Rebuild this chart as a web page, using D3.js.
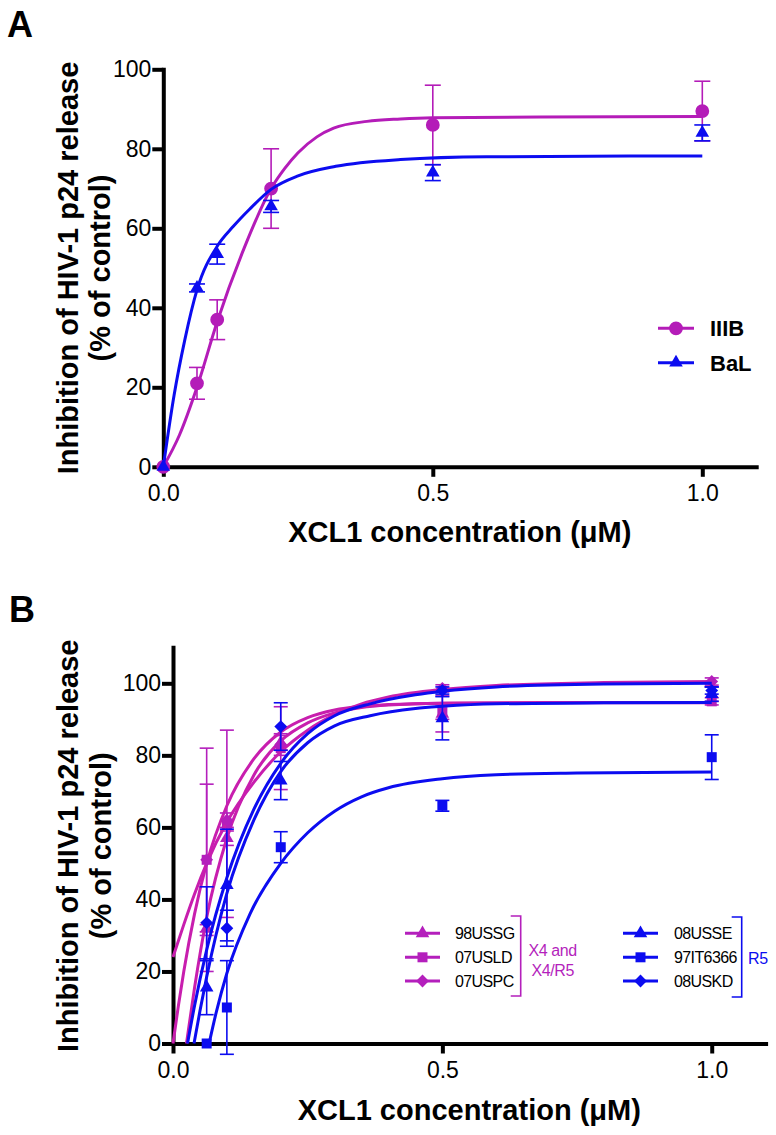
<!DOCTYPE html>
<html><head><meta charset="utf-8">
<script src="https://cdn.jsdelivr.net/npm/d3@7"></script>
<style>body{margin:0;background:#fff}svg{display:block}</style>
</head><body>
<svg id="chart" width="776" height="1135"></svg>
<script>
// ---------- Panel A data ----------
const dosesA = [0, 0.0625, 0.1, 0.2, 0.5, 1.0];
const iiibMean = [0, 21, 37, 70, 86, 89.5];
const iiibErr  = [0, 4, 5, 10, 10, 7.5];
const balMean  = [0, 45, 53.5, 65.5, 74, 84];
const balErr   = [0, 1, 2.5, 1.5, 2, 2];
// fitted curves: [x, y]
const fitIIIB = [[0,0],[0.03,8],[0.0625,20],[0.1,36.5],[0.15,55],[0.2,70],[0.225,75],[0.25,79],[0.285,83],[0.316,85.2],[0.378,86.9],[0.44,87.5],[0.5,87.8],[0.7,88],[1.0,88.1]];
const fitBaL  = [[0,0],[0.02,18],[0.04,32],[0.0625,44.5],[0.1,55.5],[0.13,60.5],[0.16,64.8],[0.2,69.8],[0.25,73.2],[0.32,75.6],[0.44,77.3],[0.6,78],[1.0,78.2]];
const legendA = ["IIIB", "BaL"];
const yTicksA = [0, 20, 40, 60, 80, 100];
const xTicks  = [0, 0.5, 1.0];

// ---------- Panel B data ----------
const dosesB = [0.0625, 0.1, 0.2, 0.5, 1.0];
const m98USSG   = [32, 57, 83.5, 91.5, 97];
const e98USSG   = [1, 2, 2, 5, 2];
const m07USLD   = [51, 61, 82, 92, 95];
const e07USLD   = [31, 26, 11.5, 2, 1];
const m07USPC   = [51, 62, 83, 98.6, 100.5];
const e07USPC   = [21, 2, 3, 1, 1];
const m08USSE   = [15.5, 44, 73, 90.3, 97];
const e08USSE   = [7.5, 15.5, 5.3, 6, 2];
const m97IT6366 = [0, 10, 54.5, 66, 79.5];
const e97IT6366 = [0, 13, 4.3, 1.5, 6.2];
const m08USKD   = [33.5, 32, 88, 98, 98];
const e08USKD   = [10, 5, 6.6, 1, 1];
const fit98USSG   = [[0.025,0],[0.04,15.5],[0.0625,35],[0.1,57],[0.15,74.5],[0.2,84],[0.25,89],[0.3,91.8],[0.35,93.3],[0.4,94],[0.5,94.5],[0.7,94.7],[1.0,94.7]];
const fit07USLD   = [[0,0],[0.01,10.5],[0.02,20],[0.04,36],[0.0625,50],[0.1,66],[0.15,79],[0.2,86.5],[0.25,90.5],[0.3,92.6],[0.35,93.6],[0.4,94.1],[0.5,94.5],[0.7,94.6],[1.0,94.6]];
const fit07USPC   = [[0,24],[0.02,33],[0.04,41.5],[0.0625,50],[0.1,61.5],[0.15,72.5],[0.2,81],[0.25,87],[0.3,91.3],[0.35,94.3],[0.4,96.2],[0.5,98.3],[0.6,99.4],[0.8,100.2],[1.0,100.5]];
const fit08USSE   = [[0.039,0],[0.05,9],[0.0625,18.5],[0.1,41.7],[0.15,62],[0.2,75.5],[0.25,83.5],[0.3,88.2],[0.366,91],[0.45,93],[0.5,93.6],[0.6,94.3],[0.8,94.6],[1.0,94.7]];
const fit97IT6366 = [[0.067,0],[0.08,8.5],[0.1,19.5],[0.143,36],[0.2,50],[0.25,58.5],[0.3,64.5],[0.35,68.5],[0.4,71],[0.5,73.5],[0.6,74.6],[0.75,75.1],[1.0,75.4]];
const fit08USKD   = [[0.027,0],[0.04,10.5],[0.0625,26],[0.1,46],[0.15,65],[0.2,77.8],[0.25,86],[0.3,91],[0.366,94.3],[0.45,96.8],[0.5,97.8],[0.6,99],[0.8,99.8],[1.0,100]];
const namesX4 = ["98USSG", "07USLD", "07USPC"];
const namesR5 = ["08USSE", "97IT6366", "08USKD"];
const yTicksB = [0, 20, 40, 60, 80, 100];

// ---------- styles ----------
const MAG_A = "#b41cb8", BLUE = "#0c0cf0";
const MAG_LINE_B = "#c81eae", MAG_MARK_B = "#b41fbc";
const FONT = "'Liberation Sans', Arial, Helvetica, sans-serif";

const svg = d3.select("#chart");
svg.append("rect").attr("width", 776).attr("height", 1135).attr("fill", "#fff");

function sym(type, size) {
  return d3.symbol().type(type).size(size)();
}
const SYM = {
  circle:   {type: d3.symbolCircle, size: 150, rot: 0},
  triangle: {type: d3.symbolTriangle, size: 80, rot: 0},
  square:   {type: d3.symbolSquare, size: 100, rot: 0},
  diamond:  {type: d3.symbolSquare, size: 82, rot: 45}
};

function drawAxes(g, x, y, yTicks, yTop) {
  const yAxis = d3.axisLeft(y).tickValues(yTicks).tickSize(11).tickSizeOuter(0).tickPadding(1).tickFormat(d3.format("d"));
  const xAxis = d3.axisBottom(x).tickValues(xTicks).tickSize(10).tickSizeOuter(0).tickPadding(8).tickFormat(d3.format(".1f"));
  const gy = g.append("g").attr("transform", `translate(${x(0)},0)`).call(yAxis);
  const gx = g.append("g").attr("transform", `translate(0,${y(0)})`).call(xAxis);
  [gx, gy].forEach(a => {
    a.attr("font-family", FONT).attr("font-size", 23);
    a.selectAll("path.domain").attr("stroke", "#000").attr("stroke-width", 4).attr("stroke-linecap", "square");
    a.selectAll(".tick line").attr("stroke", "#000").attr("stroke-width", 4);
    a.selectAll(".tick text").attr("fill", "#000");
  });
}

function drawSeries(g, x, y, doses, mean, err, fit, lineColor, markColor, shape, capW) {
  const eb = g.append("g").attr("stroke", markColor).attr("stroke-width", 1.6);
  doses.forEach((d, i) => {
    if (err[i] <= 0) return;
    const cx = x(d), lo = y(mean[i] - err[i]), hi = y(mean[i] + err[i]);
    eb.append("line").attr("x1", cx).attr("x2", cx).attr("y1", lo).attr("y2", hi);
    eb.append("line").attr("x1", cx - capW).attr("x2", cx + capW).attr("y1", lo).attr("y2", lo);
    eb.append("line").attr("x1", cx - capW).attr("x2", cx + capW).attr("y1", hi).attr("y2", hi);
  });
  const line = d3.line().x(p => x(p[0])).y(p => y(p[1])).curve(d3.curveMonotoneX);
  g.append("path").attr("d", line(fit)).attr("fill", "none").attr("stroke", lineColor).attr("stroke-width", 3);
  const s = SYM[shape];
  g.append("g").selectAll("path").data(doses).join("path")
    .attr("d", sym(s.type, s.size))
    .attr("transform", (d, i) => `translate(${x(d)},${y(mean[i])}) rotate(${s.rot})`)
    .attr("fill", markColor);
}

function yLabel(g, xb1, xb2, cy) {
  const t = [["Inhibition of HIV-1 p24 release", xb1], ["(% of control)", xb2]];
  t.forEach(([txt, xb]) => {
    g.append("text").attr("transform", `translate(${xb},${cy}) rotate(-90)`)
      .attr("text-anchor", "middle").attr("font-family", FONT).attr("font-weight", "bold")
      .attr("font-size", 29).attr("fill", "#000").text(txt);
  });
}

// ================= Panel A =================
const gA = svg.append("g");
const xA = d3.scaleLinear().domain([0, 1.1]).range([163.3, 756.2]);
const yA = d3.scaleLinear().domain([0, 100]).range([466.8, 69.3]);
drawAxes(gA, xA, yA, yTicksA);
drawSeries(gA, xA, yA, dosesA, iiibMean, iiibErr, fitIIIB, MAG_A, MAG_A, "circle", 8);
drawSeries(gA, xA, yA, dosesA, balMean, balErr, fitBaL, BLUE, BLUE, "triangle", 8);

gA.append("text").attr("x", 7).attr("y", 37).attr("font-family", FONT).attr("font-weight", "bold")
  .attr("font-size", 36).text("A");
yLabel(gA, 78, 110, 268);
gA.append("text").attr("x", (xA(0) + xA(1.1)) / 2).attr("y", 542).attr("text-anchor", "middle")
  .attr("font-family", FONT).attr("font-weight", "bold").attr("font-size", 29).text("XCL1 concentration (\u03BCM)");

// legend A
const legA = [[legendA[0], MAG_A, "circle", 328.3], [legendA[1], BLUE, "triangle", 362.7]];
legA.forEach(([name, col, shape, cy]) => {
  gA.append("line").attr("x1", 658).attr("x2", 694).attr("y1", cy).attr("y2", cy).attr("stroke", col).attr("stroke-width", 3);
  const s = SYM[shape];
  gA.append("path").attr("d", sym(s.type, s.size)).attr("transform", `translate(676,${cy})`).attr("fill", col);
  gA.append("text").attr("x", 710).attr("y", cy + 8).attr("font-family", FONT).attr("font-weight", "bold")
    .attr("font-size", 22).text(name);
});

// ================= Panel B =================
const gB = svg.append("g");
const xB = d3.scaleLinear().domain([0, 1.1]).range([173, 765.6]);
const yB = d3.scaleLinear().domain([0, 110]).range([1043.5, 647.3]);
drawAxes(gB, xB, yB, yTicksB);
const seriesB = [
  [m98USSG, e98USSG, fit98USSG, MAG_LINE_B, MAG_MARK_B, "triangle"],
  [m07USLD, e07USLD, fit07USLD, MAG_LINE_B, MAG_MARK_B, "square"],
  [m07USPC, e07USPC, fit07USPC, MAG_LINE_B, MAG_MARK_B, "diamond"],
  [m08USSE, e08USSE, fit08USSE, BLUE, BLUE, "triangle"],
  [m97IT6366, e97IT6366, fit97IT6366, BLUE, BLUE, "square"],
  [m08USKD, e08USKD, fit08USKD, BLUE, BLUE, "diamond"]
];
seriesB.forEach(s => drawSeries(gB, xB, yB, dosesB, s[0], s[1], s[2], s[3], s[4], s[5], 7));

gB.append("text").attr("x", 9).attr("y", 622).attr("font-family", FONT).attr("font-weight", "bold")
  .attr("font-size", 36).text("B");
yLabel(gB, 78, 111, 845.8);
gB.append("text").attr("x", (xB(0) + xB(1.1)) / 2).attr("y", 1120).attr("text-anchor", "middle")
  .attr("font-family", FONT).attr("font-weight", "bold").attr("font-size", 29).text("XCL1 concentration (\u03BCM)");

// legend B
const rowsY = [933.3, 957.3, 981];
const shapesB = ["triangle", "square", "diamond"];
function legendBlock(names, col, lx1, lx2, tx) {
  names.forEach((n, i) => {
    const cy = rowsY[i];
    gB.append("line").attr("x1", lx1).attr("x2", lx2).attr("y1", cy).attr("y2", cy).attr("stroke", col).attr("stroke-width", 3);
    const s = SYM[shapesB[i]];
    gB.append("path").attr("d", sym(s.type, s.size)).attr("transform", `translate(${(lx1 + lx2) / 2},${cy}) rotate(${s.rot})`).attr("fill", col);
    gB.append("text").attr("x", tx).attr("y", cy + 5.5).attr("font-family", FONT).attr("font-size", 16)
      .attr("letter-spacing", -0.6).attr("fill", "#000").text(n);
  });
}
legendBlock(namesX4, MAG_MARK_B, 405, 440, 455);
legendBlock(namesR5, BLUE, 623, 658, 674);

function bracket(xb, y1, y2, col) {
  gB.append("path").attr("d", `M${xb - 10},${y1} H${xb} V${y2} H${xb - 10}`)
    .attr("fill", "none").attr("stroke", col).attr("stroke-width", 1.6);
}
bracket(520.7, 916, 996, MAG_MARK_B);
bracket(741.7, 917, 997, BLUE);
gB.append("text").attr("x", 552.7).attr("y", 956).attr("text-anchor", "middle").attr("font-family", FONT)
  .attr("font-size", 16).attr("letter-spacing", -0.4).attr("fill", MAG_MARK_B).text("X4 and");
gB.append("text").attr("x", 552.7).attr("y", 975.5).attr("text-anchor", "middle").attr("font-family", FONT)
  .attr("font-size", 16).attr("letter-spacing", -0.4).attr("fill", MAG_MARK_B).text("X4/R5");
gB.append("text").attr("x", 748).attr("y", 963.5).attr("font-family", FONT)
  .attr("font-size", 16).attr("letter-spacing", -0.4).attr("fill", BLUE).text("R5");
</script>
</body></html>
